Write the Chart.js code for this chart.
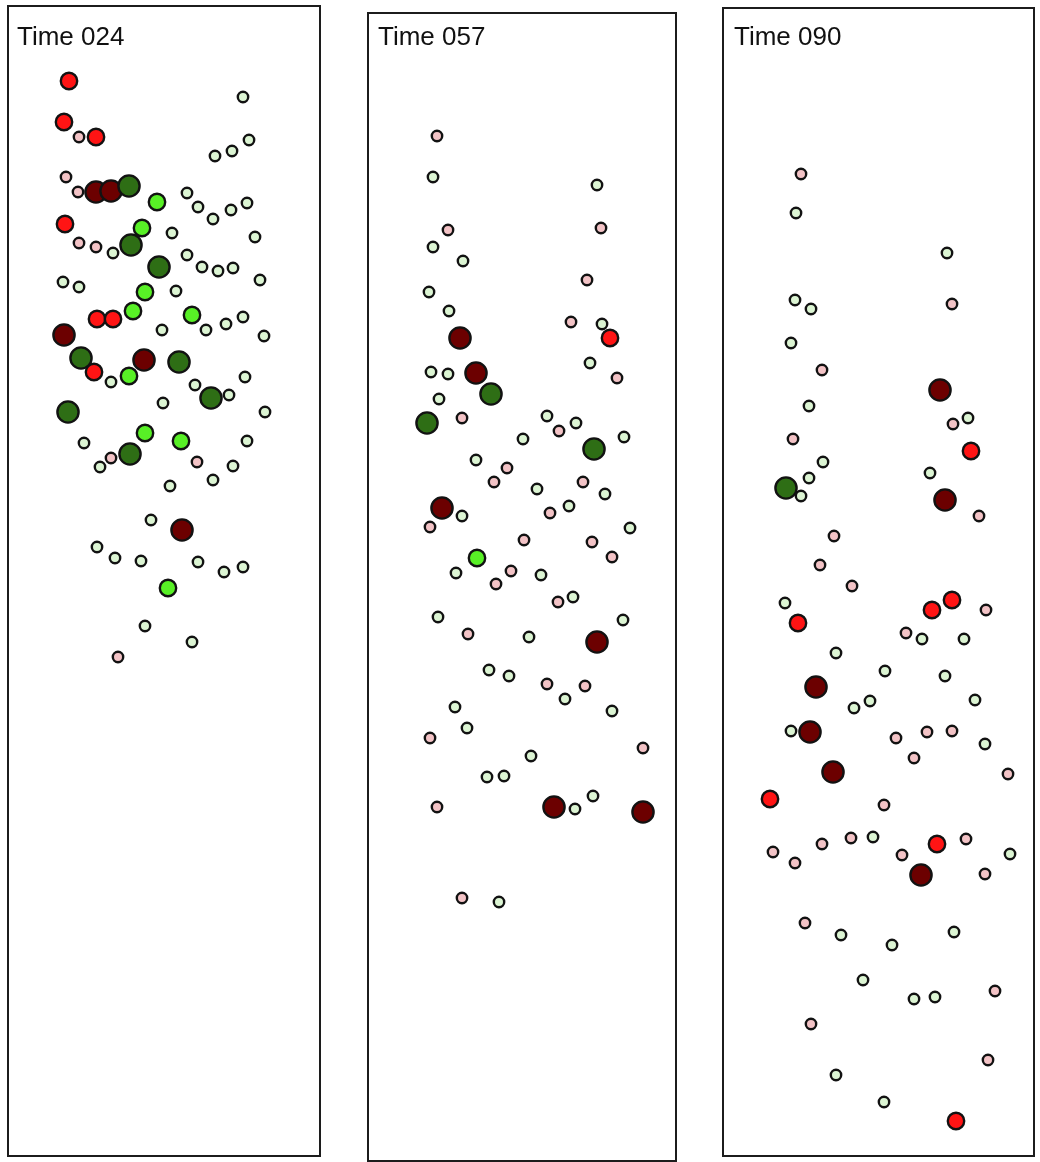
<!DOCTYPE html>
<html>
<head>
<meta charset="utf-8">
<script src="https://cdn.jsdelivr.net/npm/chart.js@4/dist/chart.umd.min.js"></script>
<style>
  html, body { margin: 0; padding: 0; background: #fff; }
  body { width: 1040px; height: 1162px; position: relative; overflow: hidden; font-family: "Liberation Sans", Arial, sans-serif; }
  .box { position: absolute; border: 2px solid #1c1c1c; box-sizing: border-box; }
  .cv { position: absolute; }
  .ttl { position: absolute; font-size: 26px; line-height: 26px; color: #111; white-space: nowrap; }
</style>
</head>
<body>
<script>
// ---------- DATA (positions in the panel's own x / y units, y grows downward) ----------
const panelTitles = ["Time 024", "Time 057", "Time 090"];

// Panel 1 — Time 024
const t024_darkRed    = [[96,192],[111,191],[64,335],[144,360],[182,530]];
const t024_darkGreen  = [[129,186],[131,245],[159,267],[81,358],[179,362],[211,398],[68,412],[130,454]];
const t024_red        = [[69,81],[64,122],[96,137],[65,224],[97,319],[113,319],[94,372]];
const t024_brightGreen= [[157,202],[142,228],[145,292],[133,311],[192,315],[129,376],[145,433],[181,441],[168,588]];
const t024_pink       = [[79,137],[66,177],[78,192],[79,243],[96,247],[111,458],[197,462],[118,657]];
const t024_paleGreen  = [[243,97],[249,140],[232,151],[215,156],[187,193],[198,207],[213,219],[231,210],[247,203],[172,233],[255,237],[113,253],[187,255],[202,267],[218,271],[233,268],[63,282],[79,287],[176,291],[260,280],[162,330],[206,330],[226,324],[243,317],[264,336],[111,382],[195,385],[229,395],[245,377],[163,403],[265,412],[84,443],[247,441],[100,467],[233,466],[213,480],[170,486],[151,520],[97,547],[115,558],[141,561],[198,562],[224,572],[243,567],[145,626],[192,642]];

// Panel 2 — Time 057
const t057_darkRed    = [[460,338],[476,373],[442,508],[597,642],[554,807],[643,812]];
const t057_darkGreen  = [[491,394],[427,423],[594,449]];
const t057_red        = [[610,338]];
const t057_brightGreen= [[477,558]];
const t057_pink       = [[437,136],[448,230],[601,228],[587,280],[571,322],[617,378],[462,418],[559,431],[507,468],[494,482],[583,482],[550,513],[430,527],[524,540],[592,542],[612,557],[511,571],[496,584],[558,602],[468,634],[547,684],[585,686],[430,738],[643,748],[437,807],[462,898]];
const t057_paleGreen  = [[433,177],[597,185],[433,247],[463,261],[429,292],[449,311],[602,324],[590,363],[431,372],[448,374],[439,399],[547,416],[576,423],[523,439],[624,437],[476,460],[537,489],[605,494],[569,506],[462,516],[630,528],[456,573],[541,575],[573,597],[438,617],[623,620],[529,637],[489,670],[509,676],[565,699],[455,707],[612,711],[467,728],[531,756],[487,777],[504,776],[593,796],[575,809],[499,902]];

// Panel 3 — Time 090
const t090_darkRed    = [[940,390],[945,500],[816,687],[810,732],[833,772],[921,875]];
const t090_darkGreen  = [[786,488]];
const t090_red        = [[971,451],[798,623],[932,610],[952,600],[770,799],[937,844],[956,1121]];
const t090_brightGreen= [];
const t090_pink       = [[801,174],[952,304],[822,370],[953,424],[793,439],[979,516],[834,536],[820,565],[852,586],[986,610],[906,633],[896,738],[927,732],[952,731],[914,758],[1008,774],[884,805],[773,852],[795,863],[822,844],[851,838],[902,855],[966,839],[985,874],[805,923],[995,991],[811,1024],[988,1060]];
const t090_paleGreen  = [[796,213],[947,253],[795,300],[811,309],[791,343],[809,406],[968,418],[823,462],[930,473],[809,478],[801,496],[785,603],[922,639],[964,639],[836,653],[885,671],[945,676],[870,701],[854,708],[975,700],[791,731],[985,744],[873,837],[1010,854],[841,935],[892,945],[954,932],[863,980],[914,999],[935,997],[836,1075],[884,1102]];

// ---------- STYLE / LAYOUT ----------
const styles = {
  paleGreen:   { color: "#dcf5d3", r: 5.2 },
  pink:        { color: "#f3c3c6", r: 5.2 },
  red:         { color: "#ff1414", r: 8.2 },
  brightGreen: { color: "#58f026", r: 8.2 },
  darkGreen:   { color: "#2e6e15", r: 10.6 },
  darkRed:     { color: "#6c0000", r: 10.6 }
};
const panels = [
  { title: panelTitles[0], left: 7,   top: 5,  right: 321,  bottom: 1157, tx: 17,  ty: 23,
    sets: { paleGreen: t024_paleGreen, pink: t024_pink, red: t024_red, brightGreen: t024_brightGreen, darkGreen: t024_darkGreen, darkRed: t024_darkRed } },
  { title: panelTitles[1], left: 367, top: 12, right: 677,  bottom: 1162, tx: 378, ty: 23,
    sets: { paleGreen: t057_paleGreen, pink: t057_pink, red: t057_red, brightGreen: t057_brightGreen, darkGreen: t057_darkGreen, darkRed: t057_darkRed } },
  { title: panelTitles[2], left: 722, top: 7,  right: 1035, bottom: 1157, tx: 734, ty: 23,
    sets: { paleGreen: t090_paleGreen, pink: t090_pink, red: t090_red, brightGreen: t090_brightGreen, darkGreen: t090_darkGreen, darkRed: t090_darkRed } }
];
const drawOrder = ["paleGreen", "pink", "red", "brightGreen", "darkGreen", "darkRed"]; // first = on top

panels.forEach((p, i) => {
  const W = p.right - p.left, H = p.bottom - p.top;
  const box = document.createElement("div");
  box.className = "box";
  Object.assign(box.style, { left: p.left + "px", top: p.top + "px", width: W + "px", height: H + "px" });
  document.body.appendChild(box);

  const cv = document.createElement("canvas");
  cv.className = "cv";
  cv.width = W; cv.height = H;
  Object.assign(cv.style, { left: p.left + "px", top: p.top + "px", width: W + "px", height: H + "px" });
  document.body.appendChild(cv);

  const t = document.createElement("div");
  t.className = "ttl";
  t.textContent = p.title;
  Object.assign(t.style, { left: p.tx + "px", top: p.ty + "px" });
  document.body.appendChild(t);

  const datasets = drawOrder.map((k, idx) => ({
    label: k,
    data: p.sets[k].map(([x, y]) => ({ x, y })),
    backgroundColor: styles[k].color,
    borderColor: "#121212",
    borderWidth: 2.4,
    pointRadius: styles[k].r,
    pointHoverRadius: styles[k].r,
    order: idx,
    clip: false
  }));

  new Chart(cv, {
    type: "scatter",
    data: { datasets },
    options: {
      responsive: false,
      animation: false,
      devicePixelRatio: 1,
      layout: { padding: 0, autoPadding: false },
      plugins: { legend: { display: false }, tooltip: { enabled: false }, title: { display: false } },
      scales: {
        x: { type: "linear", min: p.left, max: p.right, display: false },
        y: { type: "linear", min: p.top, max: p.bottom, reverse: true, display: false }
      }
    }
  });
});
</script>
</body>
</html>
